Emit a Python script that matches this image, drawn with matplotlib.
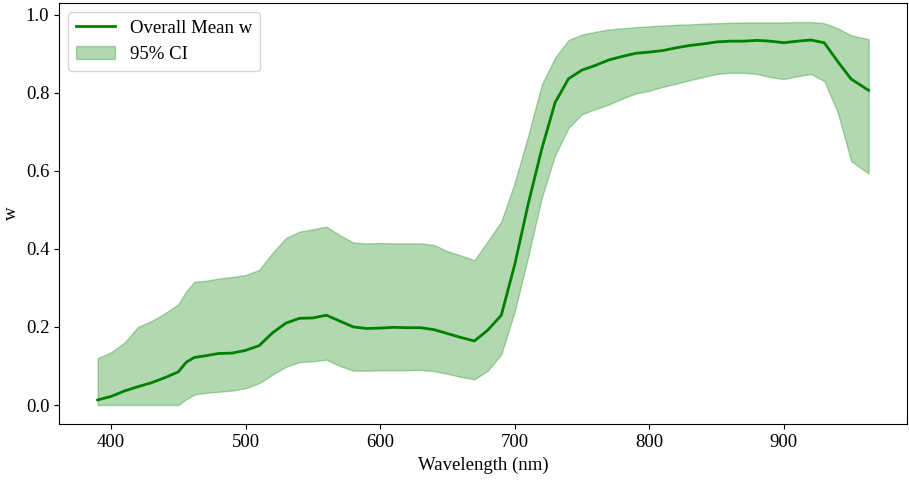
import matplotlib
matplotlib.use("Agg")
import matplotlib.pyplot as plt
import numpy as np

wavelength = [390, 400, 410, 420, 430, 440, 450, 456, 462, 470, 480, 490, 500, 510, 520, 530,
              540, 550, 560, 570, 580, 590, 600, 610, 620, 630, 640, 650, 660, 670, 680, 690,
              700, 710, 720, 730, 740, 750, 760, 770, 780, 790, 800, 810, 820, 830, 840, 850,
              860, 870, 880, 890, 900, 910, 920, 930, 940, 950, 963]

mean_w = [0.013, 0.022, 0.036, 0.047, 0.057, 0.070, 0.085, 0.110, 0.122, 0.126, 0.132, 0.133,
          0.140, 0.152, 0.185, 0.210, 0.222, 0.223, 0.230, 0.215, 0.200, 0.196, 0.197, 0.199,
          0.198, 0.198, 0.193, 0.183, 0.173, 0.164, 0.192, 0.230, 0.360, 0.515, 0.655, 0.775,
          0.836, 0.858, 0.870, 0.884, 0.893, 0.901, 0.904, 0.908, 0.915, 0.921, 0.925, 0.930,
          0.932, 0.932, 0.934, 0.932, 0.928, 0.932, 0.935, 0.928, 0.880, 0.835, 0.806]

upper_ci = [0.120, 0.135, 0.160, 0.200, 0.215, 0.235, 0.258, 0.292, 0.316, 0.318, 0.324, 0.328,
            0.333, 0.346, 0.390, 0.428, 0.444, 0.450, 0.457, 0.435, 0.416, 0.414, 0.415, 0.414,
            0.414, 0.414, 0.410, 0.394, 0.383, 0.371, 0.420, 0.470, 0.570, 0.690, 0.820, 0.890,
            0.935, 0.949, 0.956, 0.962, 0.965, 0.968, 0.970, 0.972, 0.974, 0.975, 0.977, 0.978,
            0.979, 0.980, 0.980, 0.980, 0.980, 0.981, 0.981, 0.978, 0.965, 0.947, 0.937]

lower_ci = [0.0, 0.0, 0.0, 0.0, 0.0, 0.0, 0.0, 0.015, 0.027, 0.031, 0.034, 0.037,
            0.043, 0.056, 0.078, 0.098, 0.110, 0.112, 0.116, 0.100, 0.088, 0.088, 0.089, 0.089,
            0.089, 0.090, 0.087, 0.080, 0.072, 0.066, 0.088, 0.130, 0.240, 0.380, 0.530, 0.640,
            0.710, 0.745, 0.758, 0.770, 0.785, 0.798, 0.805, 0.815, 0.823, 0.832, 0.840, 0.848,
            0.851, 0.851, 0.848, 0.840, 0.835, 0.842, 0.848, 0.830, 0.750, 0.625, 0.593]

plt.rcParams['font.family'] = ['Liberation Serif', 'DejaVu Serif']
plt.rcParams['font.size'] = 13.5

fig = plt.figure(figsize=(9.09, 4.82), dpi=100)
ax = fig.add_subplot(111)
fig.subplots_adjust(left=0.065, right=0.998, top=0.994, bottom=0.12)

ax.plot(wavelength, mean_w, color='green', lw=2, label='Overall Mean w')
ax.fill_between(wavelength, lower_ci, upper_ci, color='green', alpha=0.3, label='95% CI')

ax.set_xlabel('Wavelength (nm)')
ax.set_ylabel('w')
ax.legend(loc='upper left', handlelength=2.1)

fig.savefig('out.png', dpi=100)
